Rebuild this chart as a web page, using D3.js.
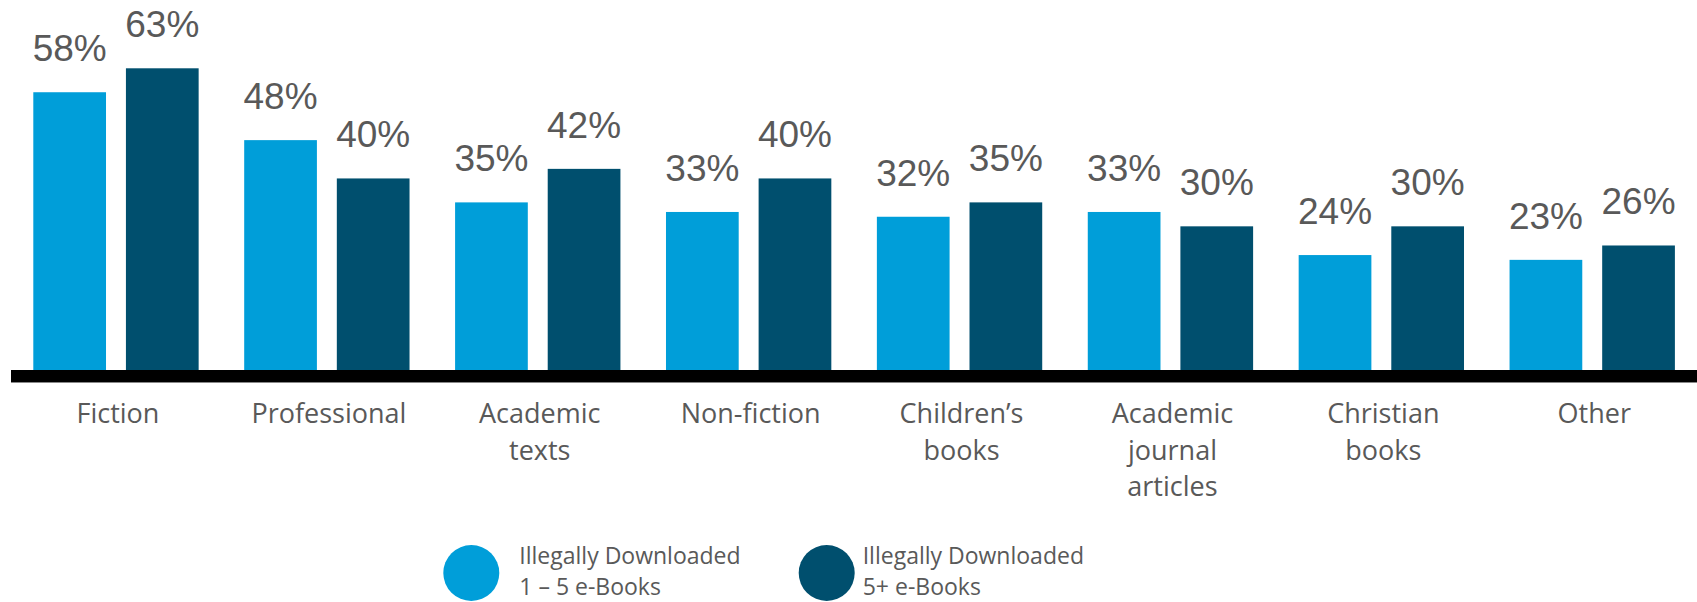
<!DOCTYPE html>
<html>
<head>
<meta charset="utf-8">
<script src="https://cdn.jsdelivr.net/npm/d3@7"></script>
<style>
  html, body { margin: 0; padding: 0; background: #ffffff; }
  svg { display: block; }
</style>
</head>
<body>
<svg id="chart" width="1697" height="602"></svg>
<script>
// ---- Data ----
const categories = ["Fiction", "Professional", "Academic texts", "Non-fiction", "Children’s books", "Academic journal articles", "Christian books", "Other"];
const categoryLines = [["Fiction"], ["Professional"], ["Academic", "texts"], ["Non-fiction"], ["Children’s", "books"], ["Academic", "journal", "articles"], ["Christian", "books"], ["Other"]];
const seriesNames = ["Illegally Downloaded 1 – 5 e-Books", "Illegally Downloaded 5+ e-Books"];
const legendLines = [["Illegally Downloaded", "1 – 5 e-Books"], ["Illegally Downloaded", "5+ e-Books"]];
const values1to5 = [58, 48, 35, 33, 32, 33, 24, 23];
const values5plus = [63, 40, 42, 40, 35, 30, 30, 26];
const seriesColors = ["#009ed9", "#004f6e"];

// ---- Layout ----
const svg = d3.select("#chart");
const baseY = 370;
const textColor = "#595959";

const x0 = d3.scaleBand().domain(categories).range([33.3, 1674.9]).paddingInner(0.216).paddingOuter(0);
const x1 = d3.scaleBand().domain([0, 1]).range([0, x0.bandwidth()]).paddingInner(0.215).paddingOuter(0);
const y = d3.scaleLinear().domain([0, 100]).range([baseY, baseY - 478.9]);
const color = d3.scaleOrdinal().domain([0, 1]).range(seriesColors);

const rows = categories.map((c, i) => ({ cat: c, vals: [values1to5[i], values5plus[i]] }));

const groups = svg.append("g").selectAll("g").data(rows).join("g")
  .attr("transform", d => `translate(${x0(d.cat)},0)`);

groups.selectAll("rect").data(d => d.vals.map((v, s) => ({ v, s }))).join("rect")
  .attr("x", d => x1(d.s))
  .attr("width", x1.bandwidth())
  .attr("y", d => y(d.v))
  .attr("height", d => y(0) - y(d.v))
  .attr("fill", d => color(d.s));

groups.selectAll("text.val").data(d => d.vals.map((v, s) => ({ v, s }))).join("text")
  .attr("class", "val")
  .attr("x", d => x1(d.s) + x1.bandwidth() / 2)
  .attr("y", d => y(d.v) - 31)
  .attr("text-anchor", "middle")
  .attr("font-family", "'Liberation Sans', Arial, sans-serif")
  .attr("font-size", 37)
  .attr("fill", textColor)
  .text(d => d.v + "%");

// axis baseline
svg.append("rect").attr("x", 11).attr("y", baseY).attr("width", 1697 - 11).attr("height", 12).attr("fill", "#000");
svg.append("line").attr("x1", 11).attr("x2", 1697).attr("y1", baseY + 12.5).attr("y2", baseY + 12.5)
  .attr("stroke", "#888").attr("stroke-width", 1);

// category labels
const catG = svg.append("g").selectAll("text").data(categories).join("text")
  .attr("x", d => x0(d) + x0.bandwidth() / 2 + 2)
  .attr("y", 423)
  .attr("text-anchor", "middle")
  .attr("font-family", "'Open Sans', sans-serif")
  .attr("font-size", 27)
  .attr("fill", textColor);
catG.selectAll("tspan").data((d, i) => categoryLines[i]).join("tspan")
  .attr("x", function() { return d3.select(this.parentNode).attr("x"); })
  .attr("dy", (d, i) => i === 0 ? 0 : 36.7)
  .text(d => d);

// legend
const legendCx = [471.3, 826.7];
const legendTx = [519.3, 862.7];
const lg = svg.append("g").selectAll("g").data(seriesNames).join("g");
lg.append("circle")
  .attr("cx", (d, i) => legendCx[i]).attr("cy", 573)
  .attr("r", 28).attr("fill", (d, i) => color(i));
lg.selectAll("text").data((d, i) => legendLines[i].map((t, j) => ({ t, i, j }))).join("text")
  .attr("x", d => legendTx[d.i])
  .attr("y", d => 563.5 + d.j * 31.5)
  .attr("font-family", "'Open Sans', sans-serif")
  .attr("font-size", 23)
  .attr("fill", textColor)
  .text(d => d.t);
</script>
</body>
</html>
